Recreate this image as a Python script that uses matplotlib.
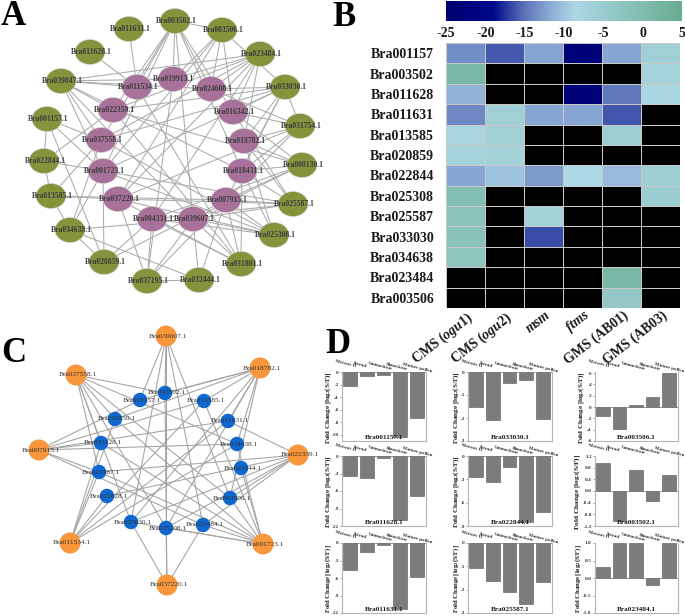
import numpy as np
import matplotlib
matplotlib.use("Agg")
import matplotlib.pyplot as plt
from matplotlib.patches import Ellipse
from matplotlib.colors import LinearSegmentedColormap, Normalize

plt.rcParams['font.family'] = ['Liberation Serif', 'DejaVu Serif']
plt.rcParams['mathtext.fontset'] = 'custom'
plt.rcParams['mathtext.bf'] = 'Liberation Serif:bold'
plt.rcParams['mathtext.rm'] = 'Liberation Serif:bold'
plt.rcParams['mathtext.it'] = 'Liberation Serif:bold:italic'

W, H = 685, 616
# ---------- Panel A network ----------
a_green = {'003502': (175, 21), '003506': (222, 30), '023484': (260, 54), '033030': (285, 87),
           '031754': (300, 126), '008130': (302, 165), '025587': (293, 204), '025308': (274, 235),
           '031801': (241, 264), '032444': (199, 280), '037195': (147, 281), '020859': (104, 262),
           '034638': (70, 230), '013585': (51, 196), '022844': (44, 161), '001157': (47, 119),
           '039847': (61, 81), '011628': (90, 52), '011631': (129, 29)}
a_purple = {'019913': (173, 79), '024608': (211, 89), '016342': (233, 112), '018782': (244, 141),
            '018431': (242, 171), '007915': (226, 200), '039607': (193, 219), '004331': (152, 219),
            '037220': (118, 199), '001723': (103, 171), '037558': (101, 140), '022359': (113, 110),
            '011534': (137, 87)}
a_edges = {
    '003502': ['011534', '019913', '022359', '037558', '024608', '016342', '001723', '018431', '003506', '039607'],
    '003506': ['019913', '024608', '001723', '037220', '016342', '033030'],
    '023484': ['019913', '024608', '016342', '018782', '037558', '039847', '022359', '037220', '004331'],
    '033030': ['024608', '016342', '018782', '022359', '037558', '001723', '031754', '007915', '018431'],
    '031754': ['016342', '018782', '018431', '007915', '037220', '024608'],
    '008130': ['016342', '018782', '018431', '007915', '004331', '039607', '022359'],
    '025587': ['018782', '018431', '007915', '037220', '004331', '039607', '016342', '001723'],
    '025308': ['018431', '007915', '037220', '001723', '037558', '039607', '018782', '004331'],
    '031801': ['007915', '018431', '039607', '004331', '022359', '011534', '037220'],
    '032444': ['039607', '007915', '037195', '034638'],
    '037195': ['004331', '039607', '007915', '037220', '019913'],
    '020859': ['001157', '034638', '004331', '007915', '001723'],
    '034638': ['013585', '001723', '037558', '039607'],
    '013585': ['022844', '037220', '037558', '007915'],
    '022844': ['001157', '001723', '022359'],
    '001157': ['037558', '001723'],
    '039847': ['011534', '022359', '037558', '001723', '019913', '024608', '018431', '039607'],
    '011628': ['011534'],
    '011631': ['011534'],
}
# ---------- Panel B heatmap ----------
hm_genes = ['Bra001157', 'Bra003502', 'Bra011628', 'Bra011631', 'Bra013585', 'Bra020859', 'Bra022844',
            'Bra025308', 'Bra025587', 'Bra033030', 'Bra034638', 'Bra023484', 'Bra003506']
hm_lines = ['CMS (ogu1)', 'CMS (ogu2)', 'msm', 'ftms', 'GMS (AB01)', 'GMS (AB03)']
n = np.nan
hm_values = np.array([
    [-13.5, -16, -12.2, -23, -12, -6],
    [1.5, n, n, n, n, -7],
    [-11.2, n, n, -23, -14.8, -8],
    [-13.8, -6, -12, -12, -16.2, n],
    [-7.5, -6, n, n, -5.5, n],
    [-7, -6.5, n, n, n, n],
    [-12, -10, -12.8, -8.5, -10.8, -5.5],
    [-0.5, n, n, n, n, -5],
    [-2, n, -6.5, n, n, n],
    [-1.5, n, -16.5, n, n, n],
    [-2.5, n, n, n, n, n],
    [n, n, n, n, 1.5, n],
    [n, n, n, n, -3.5, n]])
cb_ticks = [-25, -20, -15, -10, -5, 0, 5]
# ---------- Panel C network ----------
c_orange = {'039607': (166, 336), '018782': (260, 368), '022359': (298, 455), '001723': (263, 544),
            '037220': (167, 585), '011534': (70, 543), '007915': (39, 450), '037558': (76, 375)}
c_blue = {'003502': (165, 393), '013585': (204, 401), '011631': (228, 421), '034638': (237, 444),
          '022844': (241, 468), '003506': (230, 498), '023484': (203, 525), '025308': (166, 528),
          '033030': (131, 522), '011628': (107, 496), '025587': (99, 472), '015128': (101, 443),
          '020859': (115, 419), '001157': (140, 400)}
c_edges = {
    '039607': ['003502', '001157', '023484', '033030', '025308', '003506'],
    '037558': ['003502', '020859', '015128', '025587', '033030', '034638', '003506', '025308'],
    '007915': ['013585', '011631', '034638', '015128', '025587', '023484', '001157'],
    '011534': ['025587', '011628', '020859', '011631', '034638', '015128', '013585'],
    '037220': ['033030', '025308', '023484', '003502'],
    '001723': ['025308', '033030', '023484', '003506', '022844', '034638', '020859', '025587', '015128', '013585'],
    '022359': ['011631', '025587', '003506', '033030', '023484', '025308', '011628'],
    '018782': ['003502', '001157', '013585', '011631', '034638', '003506', '025308', '033030', '020859'],
}
# ---------- Panel D bars ----------
stages = ['Meiosis II', 'Tetrad', 'Uninucleate', 'Binucleate', 'Mature pollen']
bar_genes = [['Bra001157.1', 'Bra033030.1', 'Bra003506.1'],
             ['Bra011628.1', 'Bra022844.1', 'Bra003502.1'],
             ['Bra011631.1', 'Bra025587.1', 'Bra023484.1']]
bar_vals = [[[-2.2, -0.7, -0.4, -10.3, -7.4], [-1.5, -2.1, -0.46, -0.36, -2.05], [-1.6, -3.9, 0.4, 1.7, 6.1]],
            [[-3.4, -3.8, -0.3, -11, -6.8], [-2.75, -3.3, -1.4, -8.5, -7.2], [0.97, -1.03, 0.73, -0.35, 0.55]],
            [[-4.6, -1.6, -0.3, -11.3, -5.9], [-1.06, -1.63, -2.08, -2.6, -1.65], [0.32, 1, 1, -0.2, 1]]]
bar_ylim = [[(-11, 0), (-3, 0), (-6, 6.2)], [(-12, 0), (-9, 0), (-1.2, 1.2)], [(-12, 0), (-3, 0), (-1, 1)]]
bar_ticks = [[[0, -2, -4, -6, -8, -10], [0, -1, -2, -3], [-6, -4, -2, 0, 2, 4, 6]],
             [[0, -3, -6, -9, -12], [0, -3, -6, -9], [1.2, 0.8, 0.4, 0.0, -0.4, -0.8, -1.2]],
             [[0, -3, -6, -9, -12], [0, -1, -2, -3], [1.0, 0.5, 0.0, -0.5, -1.0]]]
tick_fmt = [['%d', '%d', '%d'], ['%d', '%d', '%.1f'], ['%d', '%d', '%.1f']]
col_x = [(342, 426), (468, 552), (595, 678)]
row_y = [(372, 441), (456, 526), (543, 613)]
ylabel_x = [[328, 456, 581], [328, 456, 577], [328, 456, 578]]
ylabel_size = [[5.0, 5.0, 5.0], [5.0, 5.0, 5.3], [4.8, 4.8, 4.8]]
stage_dx = [-5, -7, -3, -3, 0]
stage_dy = [8, 7, 6, 5, 4]

fig = plt.figure(figsize=(W / 100, H / 100), dpi=100, facecolor='white')


def px_axes(x0, y0, x1, y1, **kw):
    return fig.add_axes([x0 / W, 1 - y1 / H, (x1 - x0) / W, (y1 - y0) / H], **kw)


bg = px_axes(0, 0, W, H)
bg.set_xlim(0, W)
bg.set_ylim(H, 0)
bg.axis('off')

EDGE = '#ababab'
# A
for g, targets in a_edges.items():
    p0 = a_green[g]
    for t in targets:
        p1 = a_purple.get(t, a_green.get(t))
        bg.plot([p0[0], p1[0]], [p0[1], p1[1]], color=EDGE, lw=0.75, zorder=1)
for nodes, col in ((a_green, '#84933c'), (a_purple, '#a8719a')):
    for k, (x, y) in nodes.items():
        bg.add_patch(Ellipse((x, y), 30, 25, fc=col, ec='#d8d8d8', lw=0.4, zorder=2))
        bg.text(x + 1, y, 'Bra%s.1' % k, ha='center', va='center', fontsize=5.5, fontweight='bold',
                color='#3c3c3c', zorder=3)
# C
for o, targets in c_edges.items():
    p0 = c_orange[o]
    for t in targets:
        p1 = c_blue[t]
        bg.plot([p0[0], p1[0]], [p0[1], p1[1]], color='#a2a2a2', lw=0.75, zorder=1)
for nodes, col, d in ((c_orange, '#f7963a', 21), (c_blue, '#0f68cf', 14.5)):
    for k, (x, y) in nodes.items():
        bg.add_patch(Ellipse((x, y), d, d, fc=col, ec='none', zorder=2))
        bg.text(x + 2, y, 'Bra%s.1' % k, ha='center', va='center', fontsize=5.3, color='#333333', zorder=3)

for letter, x, y in (('A', 1, 25), ('B', 332, 26), ('C', 1, 362), ('D', 325, 353)):
    bg.text(x, y, letter, fontsize=25, fontweight='bold', color='black', ha='left', va='baseline', zorder=5)

# B
cmap = LinearSegmentedColormap.from_list('b', [(0, '#00006e'), (0.2, '#000a8c'), (0.33, '#5a72b8'),
                                                (0.45, '#90afd8'), (0.55, '#add8e6'), (1, '#67ad90')])
cmap.set_bad('black')
norm = Normalize(-25, 5)
hm = px_axes(446, 43, 680, 308)
hm.pcolormesh(np.arange(7), np.arange(14), np.ma.masked_invalid(hm_values), cmap=cmap, norm=norm,
              edgecolors='#c8c8c8', linewidth=0.5)
hm.set_xlim(0, 6)
hm.set_ylim(13, 0)
hm.set_xticks([])
hm.set_yticks(np.arange(13) + 0.5)
hm.set_yticklabels(hm_genes, fontsize=10, fontweight='bold', color='#1a1a1a')
hm.tick_params(axis='y', length=0, pad=8.6)
for s in hm.spines.values():
    s.set_visible(False)
for i, lab in enumerate(hm_lines):
    txt = lab
    if 'ogu' in lab:
        txt = r'CMS ($\mathit{' + lab[5:-1] + r'}$)'
    style = 'italic' if lab in ('msm', 'ftms') else 'normal'
    bg.text(446 + 39 * (i + 0.5) + 1, 309, txt, rotation=38, rotation_mode='anchor', ha='right', va='top',
            fontsize=10, fontweight='bold', fontstyle=style, color='#1a1a1a')

cb = px_axes(446, 1, 682, 21)
cb.imshow(np.linspace(-25, 5, 256)[None, :], aspect='auto', cmap=cmap, norm=norm, extent=(-25, 5, 0, 1))
cb.set_yticks([])
cb.set_xticks(cb_ticks)
cb.set_xticklabels([str(t) for t in cb_ticks], fontsize=10, fontweight='bold', color='#1a1a1a')
cb.tick_params(axis='x', length=0, pad=4)
for s in cb.spines.values():
    s.set_visible(False)

# D
for r in range(3):
    for c in range(3):
        ax = px_axes(col_x[c][0], row_y[r][0], col_x[c][1], row_y[r][1])
        ax.bar(np.arange(5), bar_vals[r][c], width=0.82, color='#7c7c7c', edgecolor='#555555', linewidth=0.4)
        ax.set_xlim(-0.5, 4.55)
        ax.set_ylim(*bar_ylim[r][c])
        ax.axhline(0, color='#777777', lw=0.5)
        ax.set_xticks([])
        ax.set_yticks(bar_ticks[r][c])
        ax.set_yticklabels([tick_fmt[r][c] % t for t in bar_ticks[r][c]], fontsize=3.8, fontweight='bold',
                           color='#333333')
        ax.tick_params(axis='y', length=1.5, width=0.4, pad=0.8, color='#666666')
        for name, s in ax.spines.items():
            s.set_color('#b5b5b5')
            s.set_linewidth(0.8)
        ax.spines['top'].set_visible(False)
        ax.text(0.5, 0.055, bar_genes[r][c], transform=ax.transAxes, ha='center', va='center', fontsize=5.2,
                fontweight='bold', color='#1a1a1a')
        for i, st in enumerate(stages):
            ax.annotate(st, xy=(i, 1), xycoords=('data', 'axes fraction'),
                        xytext=(stage_dx[i] / 1.39, stage_dy[i] / 1.39), textcoords='offset points',
                        ha='center', va='center', rotation=-14, fontsize=3.6, fontweight='bold', color='#333333',
                        annotation_clip=False)
        bg.text(ylabel_x[r][c], (row_y[r][0] + row_y[r][1]) / 2 + 1, r'Fold Change [log$\mathbf{_2}$(S/F)]',
                rotation=90, ha='center', va='center', fontsize=ylabel_size[r][c], fontweight='bold', color='#1a1a1a')

fig.savefig('out.png', dpi=100, facecolor='white')
